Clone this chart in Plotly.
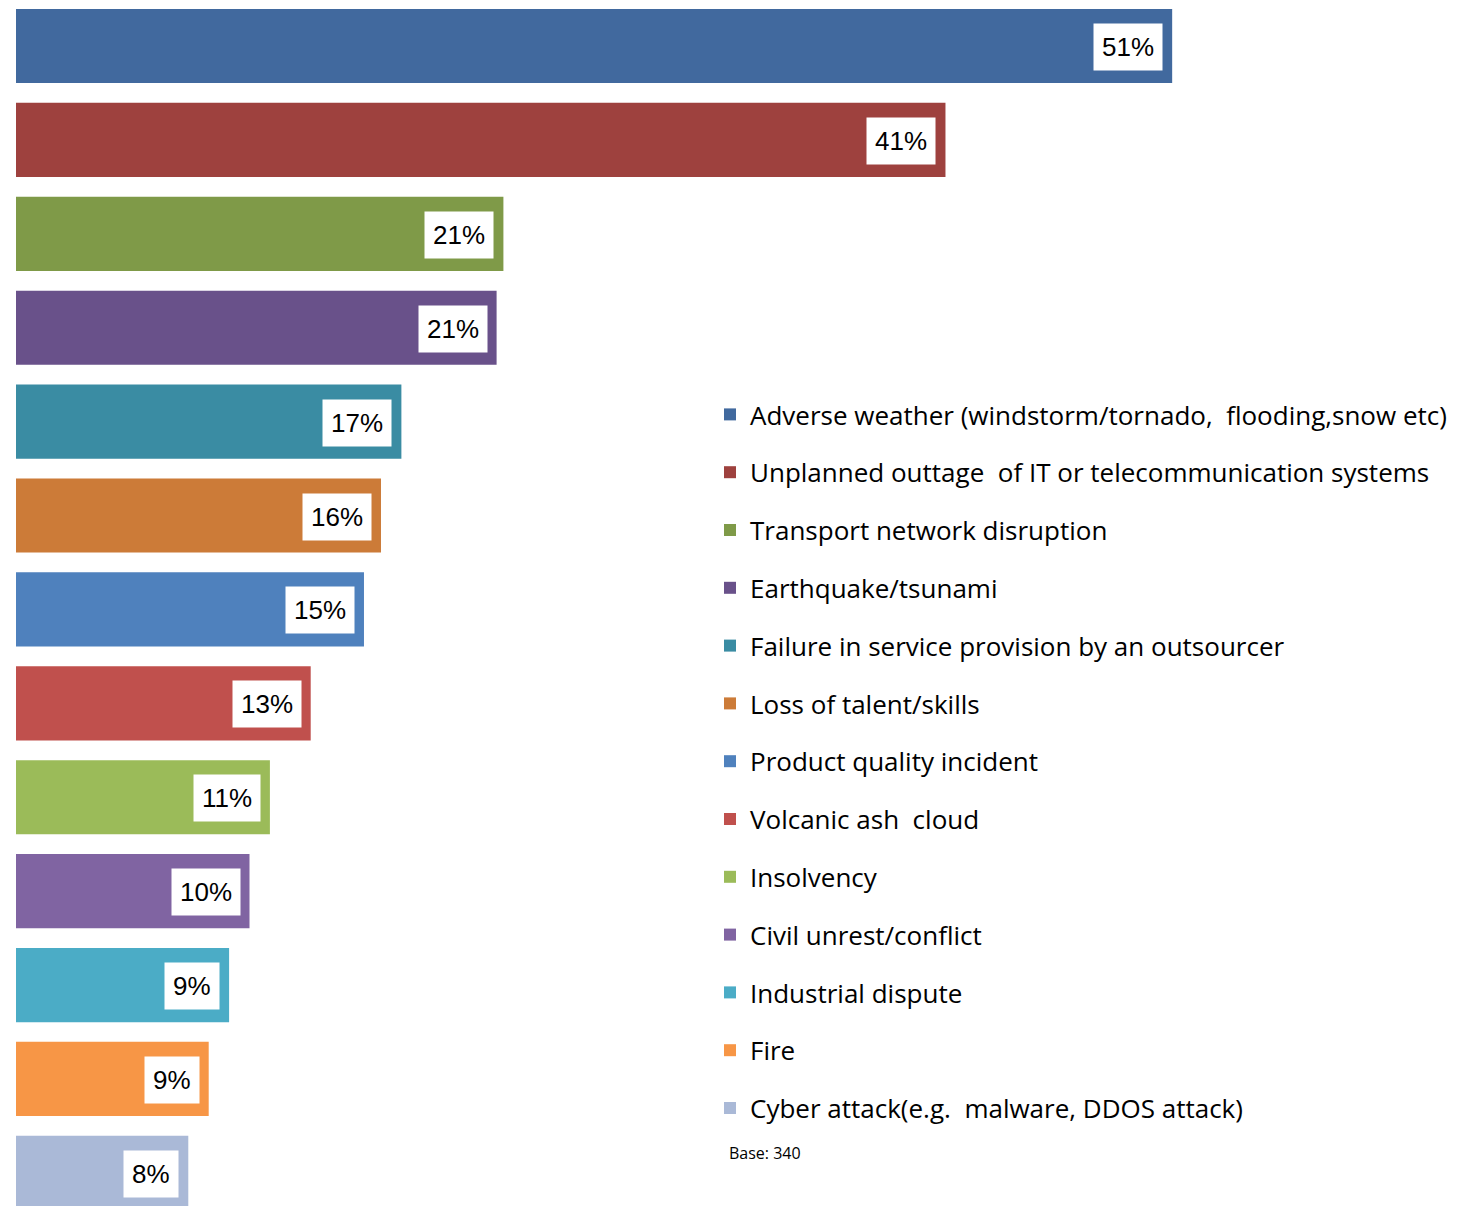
import plotly.graph_objects as go

categories = [
    "Adverse weather (windstorm/tornado,  flooding,snow etc)",
    "Unplanned outtage  of IT or telecommunication systems",
    "Transport network disruption",
    "Earthquake/tsunami",
    "Failure in service provision by an outsourcer",
    "Loss of talent/skills",
    "Product quality incident",
    "Volcanic ash  cloud",
    "Insolvency",
    "Civil unrest/conflict",
    "Industrial dispute",
    "Fire",
    "Cyber attack(e.g.  malware, DDOS attack)",
]
values = [51.0, 41.0, 21.5, 21.2, 17.0, 16.1, 15.35, 13.0, 11.2, 10.3, 9.4, 8.5, 7.6]
labels = ["51%", "41%", "21%", "21%", "17%", "16%", "15%", "13%", "11%", "10%", "9%", "9%", "8%"]
colors = ["#41699E", "#9E413E", "#7F9A48", "#69518A", "#3A8CA3", "#CC7B38", "#4F81BD",
          "#C0504D", "#9BBB59", "#8064A2", "#4BACC6", "#F79646", "#AAB9D7"]

FONT = "Liberation Sans"
LFONT = "Open Sans"
fig = go.Figure()
for i, (c, v, col) in enumerate(zip(categories, values, colors)):
    fig.add_trace(go.Bar(
        y=[c], x=[v], orientation="h", name=c,
        marker=dict(color=col, line=dict(width=0)),
        legendgroup=f"g{i}", hoverinfo="x+y",
    ))
    fig.add_annotation(
        x=v, y=c, xref="x", yref="y", text=labels[i], showarrow=False,
        xanchor="right", xshift=-9, yshift=-1, bgcolor="white", borderpad=8,
        font=dict(family=FONT, size=26, color="black"),
    )

fig.add_annotation(
    x=(727 - 16) / 1459, y=1 - 1153 / 1206, xref="paper", yref="paper",
    text="Base: 340", showarrow=False, xanchor="left", yanchor="middle",
    font=dict(family=LFONT, size=16, color="black"),
)

fig.update_layout(
    width=1475, height=1206,
    margin=dict(l=16, r=0, t=0, b=0),
    plot_bgcolor="white", paper_bgcolor="white",
    barmode="overlay", bargap=0.21,
    showlegend=True,
    legend=dict(
        x=(710 - 16) / 1459, y=1 - 391 / 1206, xanchor="left", yanchor="top",
        font=dict(family=LFONT, size=26, color="black"),
        tracegroupgap=21, bgcolor="rgba(0,0,0,0)",
    ),
    xaxis=dict(range=[0, 1459 / 22.67], visible=False, fixedrange=True),
    yaxis=dict(categoryorder="array", categoryarray=categories,
               range=[12.353, -0.49], visible=False),
)

fig.write_html("out.html")
